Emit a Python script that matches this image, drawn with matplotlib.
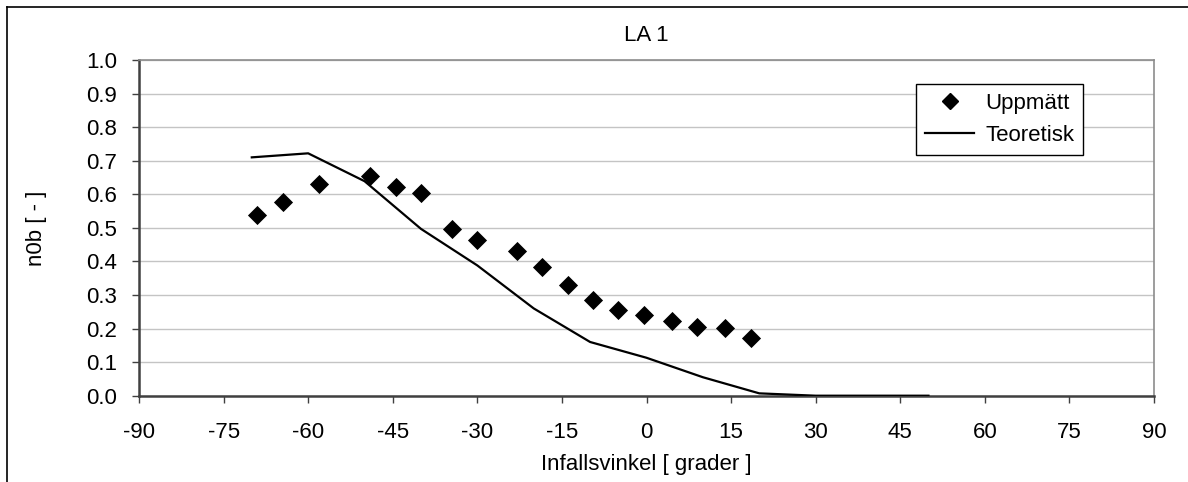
import numpy as np
import matplotlib
matplotlib.use('Agg')
import matplotlib.pyplot as plt
from matplotlib.lines import Line2D

# measured points (angle in degrees, n0b)
uppmatt_vinkel = [-69, -64.5, -58, -49, -44.5, -40, -34.5, -30, -23, -18.5,
                  -14, -9.5, -5, -0.5, 4.5, 9, 14, 18.5]
uppmatt_n0b = [0.537, 0.577, 0.631, 0.654, 0.621, 0.603, 0.496, 0.465, 0.430,
               0.383, 0.329, 0.284, 0.255, 0.239, 0.223, 0.205, 0.201, 0.172]

# theoretical curve
teori_vinkel = [-70, -60, -50, -40, -30, -20, -10, 0, 10, 20, 30, 40, 50]
teori_n0b = [0.710, 0.722, 0.639, 0.497, 0.388, 0.260, 0.160, 0.113, 0.055,
             0.007, 0.0, 0.0, 0.0]

x_ticks = list(range(-90, 91, 15))
y_ticks = [round(v * 0.1, 1) for v in range(11)]

plt.rcParams['font.family'] = ['Liberation Sans', 'DejaVu Sans']
FS = 16

W, H = 1188, 482
fig = plt.figure(figsize=(W / 100, H / 100), dpi=100)
ax = fig.add_axes([139 / W, 1 - 395.7 / H, (1154 - 139) / W, (395.7 - 60) / H])

ax.set_xlim(-90, 90)
ax.set_ylim(0, 1.0)
ax.set_xticks(x_ticks)
ax.set_xticklabels([str(t) for t in x_ticks])
ax.set_yticks(y_ticks)
ax.set_yticklabels([f'{t:.1f}' for t in y_ticks])
ax.grid(axis='y', color='#c4c4c4', linewidth=1.0)
ax.set_axisbelow(True)

for side in ['top', 'right']:
    ax.spines[side].set_color('#8c8c8c')
    ax.spines[side].set_linewidth(1.2)
for side in ['left', 'bottom']:
    ax.spines[side].set_color('#404040')
    ax.spines[side].set_linewidth(1.8)

ax.tick_params(axis='both', labelsize=FS, color='#404040', width=1.0,
               length=5, direction='out')
ax.tick_params(axis='x', pad=14)
ax.tick_params(axis='y', pad=11)

ax.plot(teori_vinkel, teori_n0b, color='black', linewidth=1.6, zorder=3)
ax.scatter(uppmatt_vinkel, uppmatt_n0b, marker='D', s=95, color='black',
           linewidths=0, zorder=4)

ax.set_title('LA 1', fontsize=FS, pad=13.5)
ax.set_xlabel('Infallsvinkel [ grader ]', fontsize=FS, labelpad=8)
ax.set_ylabel('n0b [ - ]', fontsize=FS, labelpad=28)

handles = [
    Line2D([], [], marker='D', linestyle='none', color='black', markersize=8),
    Line2D([], [], color='black', linewidth=1.6),
]
leg = ax.legend(handles, ['Uppmätt', 'Teoretisk'], loc='upper right',
                bbox_to_anchor=(1083 / W, 1 - 84 / H),
                bbox_transform=fig.transFigure, fontsize=FS, frameon=True,
                fancybox=False, edgecolor='black', framealpha=1,
                handlelength=2.2, handletextpad=0.5, borderpad=0.4,
                labelspacing=0.5, borderaxespad=0)
leg.get_frame().set_linewidth(1.0)

# outer chart border (top and left)
fig.add_artist(Line2D([7 / W, 1], [1 - 7 / H, 1 - 7 / H], color='black',
                      linewidth=1.2, transform=fig.transFigure))
fig.add_artist(Line2D([7 / W, 7 / W], [0, 1 - 7 / H], color='black',
                      linewidth=1.2, transform=fig.transFigure))

fig.savefig('out.png', dpi=100)
